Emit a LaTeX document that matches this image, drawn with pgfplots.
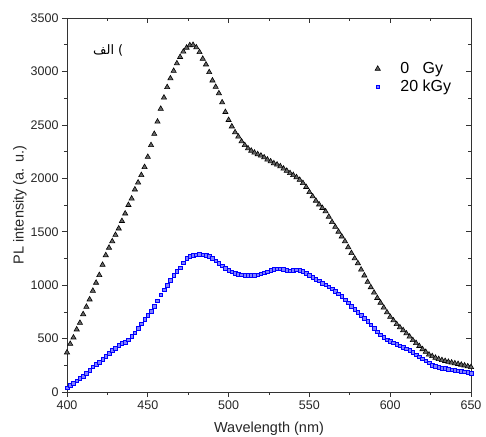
\documentclass[border=0pt]{standalone}
\usepackage{fontspec}
\setmainfont{Liberation Sans}
\newfontfamily\arabicfont[Script=Arabic]{DejaVu Sans}
\TeXXeTstate=1
\usepackage{pgfplots}
\pgfplotsset{compat=1.18}
\usetikzlibrary{calc}
\definecolor{axgray}{HTML}{333333}

\pgfplotstableread{
wl  I
400 370
402 450
404 510
406 585
408 647
410 728
412 797
414 866
416 947
418 1022
420 1094
422 1190
424 1280
426 1350
428 1410
430 1470
432 1530
434 1600
436 1670
438 1750
440 1810
442 1895
444 1960
446 2030
448 2105
450 2200
452 2310
454 2415
456 2530
458 2650
460 2755
462 2853
464 2935
466 3005
468 3075
470 3135
472 3185
474 3222
476 3245
478 3248
480 3225
482 3180
484 3118
486 3065
488 2993
490 2915
492 2855
494 2795
496 2710
498 2620
500 2545
502 2485
504 2430
506 2390
508 2345
510 2310
512 2280
514 2258
516 2240
518 2225
520 2212
522 2195
524 2175
526 2158
528 2140
530 2128
532 2112
534 2090
536 2070
538 2048
540 2030
542 2010
544 1985
546 1955
548 1918
550 1870
552 1830
554 1790
556 1755
558 1722
560 1690
562 1640
564 1590
566 1545
568 1500
570 1455
572 1410
574 1355
576 1300
578 1250
580 1205
582 1145
584 1090
586 1030
588 980
590 930
592 880
594 835
596 790
598 745
600 703
602 670
604 635
606 605
608 578
610 548
612 518
614 485
616 458
618 430
620 400
622 375
624 350
626 335
628 320
630 308
632 298
634 290
636 282
638 275
640 268
642 262
644 255
646 248
648 240
650 233
}\zeroGy

\pgfplotstableread{
wl  I
400 40
402 62
404 82
406 105
408 128
410 150
412 174
414 205
416 235
418 258
420 281
422 305
424 333
426 362
428 388
430 412
432 435
434 455
436 467
438 488
440 520
442 555
444 598
446 640
448 680
450 720
452 758
454 802
456 855
458 910
460 958
462 1000
464 1045
466 1090
468 1130
470 1162
472 1210
474 1250
476 1272
478 1281
480 1285
482 1287
484 1285
486 1280
488 1268
490 1250
492 1228
494 1205
496 1180
498 1158
500 1140
502 1125
504 1112
506 1103
508 1096
510 1092
512 1090
514 1090
516 1092
518 1098
520 1105
522 1115
524 1125
526 1138
528 1148
530 1155
532 1155
534 1148
536 1138
538 1135
540 1142
542 1145
544 1140
546 1128
548 1112
550 1095
552 1075
554 1055
556 1040
558 1020
560 1002
562 985
564 965
566 945
568 920
570 895
572 865
574 835
576 805
578 775
580 745
582 718
584 690
586 660
588 628
590 595
592 565
594 535
596 510
598 490
600 475
602 462
604 448
606 432
608 418
610 405
612 390
614 370
616 350
618 330
620 312
622 292
624 272
626 252
628 240
630 232
632 225
634 220
636 214
638 208
640 203
642 198
644 193
646 188
648 182
650 175
}\twentykGy

\begin{document}
\begin{tikzpicture}
\pgfplotsset{
  plbase/.style={
    scale only axis,
    width=404pt, height=374pt,
    xmin=400, xmax=650, ymin=0, ymax=3500,
    xtick={400,450,...,650}, ytick={0,500,...,3500},
    minor x tick num=1, minor y tick num=1,
    major tick length=5pt, minor tick length=3pt,
    axis line style={axgray, line width=0.8pt},
    tick style={axgray, line width=0.7pt},
  }
}
% top and right frame, ticks pointing in
\begin{axis}[plbase,
    axis x line*=top, axis y line*=right,
    tick align=inside,
    xticklabels={}, yticklabels={}]
\end{axis}

\begin{axis}[plbase,
    axis x line*=bottom, axis y line*=left,
    tick align=outside,
    /pgf/number format/assume math mode=true,
    /pgf/number format/1000 sep={},
    ticklabel style={font=\fontsize{12.5}{14}\selectfont, text=black!85},
    xlabel={Wavelength (nm)},
    ylabel={PL intensity (a. u.)},
    every axis x label/.style={at={(axis description cs:0.5,0)}, yshift=-41pt, anchor=base,
      font=\fontsize{14.5}{16}\selectfont, text=black!85},
    every axis y label/.style={at={(axis description cs:0,0.5)}, xshift=-47pt, rotate=90, anchor=center,
      font=\fontsize{14.5}{16}\selectfont, text=black!85},
    legend image code/.code={
      \draw[#1] plot coordinates {(0.3cm,0cm)};
      \path (0pt,0pt) (29pt,0pt);
    },
    legend style={draw=none, fill=none, at={(axis description cs:0.747,0.887)}, anchor=north west,
      font=\fontsize{16}{18}\selectfont, row sep=1pt, inner sep=0pt},
    legend cell align=left,
  ]
  \coordinate (bl) at (rel axis cs:0,0);
  \coordinate (tr) at (rel axis cs:1,1);

  \addplot[only marks, mark=triangle*, mark size=3.0pt,
    mark options={draw=black, fill=black!60, line width=0.6pt}]
    table[x=wl, y=I] {\zeroGy};
  \addlegendentry{0\hspace{0.834em}Gy}

  \addplot[only marks, mark=square*, mark size=1.8pt,
    mark options={draw=blue, fill=blue!50, line width=0.5pt}]
    table[x=wl, y=I] {\twentykGy};
  \addlegendentry{20 kGy}

  \node[font=\fontsize{13}{15}\selectfont] at (axis cs:425.5,3200)
    {\arabicfont\beginR الف\endR\ )};
\end{axis}
\pgfresetboundingbox
\path ($(bl)+(-67pt,-45pt)$) rectangle ($(tr)+(15pt,18pt)$);
\end{tikzpicture}
\end{document}
